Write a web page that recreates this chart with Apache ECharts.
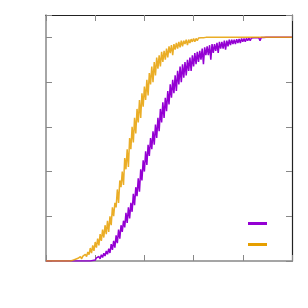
<!DOCTYPE html>
<html><head><meta charset="utf-8">
<script src="https://cdn.jsdelivr.net/npm/echarts@6/dist/echarts.min.js"></script>
<style>html,body{margin:0;padding:0;background:#fff}#c{width:308px;height:308px}</style>
</head><body><div id="c"></div>
<script>
const xTicks = [0, 20, 40, 60, 80, 100];
const yTicks = [0, 0.2, 0.4, 0.6, 0.8, 1.0];
const seriesNames = ['series 1', 'series 2'];
const step = 0.5;
// purple series: samples starting at x = 16, step 0.5
const purpleStart = 16;
const purpleVals = [
0,0,0,0.004,0,0.006,0.002,0.01,0.004,0.014,0.008,0.02,0.01,0.028,0.016,0.035,0.022,0.045,0.03,0.055,
0.036,0.075,0.05,0.09,0.06,0.115,0.08,0.14,0.1,0.16,0.13,0.18,0.15,0.215,0.17,0.24,0.19,0.26,0.22,0.3,
0.25,0.33,0.29,0.37,0.31,0.41,0.36,0.45,0.4,0.49,0.43,0.52,0.47,0.55,0.5,0.58,0.52,0.61,0.55,0.64,
0.58,0.68,0.62,0.71,0.64,0.73,0.67,0.76,0.7,0.79,0.73,0.81,0.75,0.83,0.76,0.85,0.79,0.87,0.8,0.88,
0.82,0.89,0.83,0.9,0.85,0.91,0.85,0.92,0.87,0.93,0.88,0.935,0.89,0.94,0.9,0.95,0.88,0.955,0.92,0.96,
0.92,0.965,0.9,0.97,0.93,0.97,0.94,0.975,0.93,0.98,0.95,0.98,0.95,0.985,0.945,0.985,0.96,0.99,0.965,0.99,
0.97,0.99,0.97,0.992,0.975,0.993,0.975,0.995,0.98,0.995,0.98,0.996,0.985,0.997,0.985,0.997,0.99,0.998,0.99,0.998,
0.99,0.998,0.985,0.999,0.993,0.999,0.995,1,0.995,1,0.996,1,0.997,1,0.998,1,0.998,1,0.999,1,
1,1,1,1,1,1,1,1,1
];
// orange series: samples starting at x = 10, step 0.5
const orangeStart = 10;
const orangeVals = [
0,0,0.004,0,0.008,0.002,0.012,0.006,0.02,0.01,0.022,0.014,0.03,0.02,0.04,0.028,0.058,0.035,0.07,0.045,
0.085,0.06,0.1,0.07,0.12,0.09,0.14,0.105,0.16,0.12,0.18,0.13,0.2,0.16,0.24,0.2,0.26,0.24,0.32,0.26,
0.36,0.33,0.4,0.34,0.46,0.41,0.5,0.42,0.55,0.5,0.6,0.53,0.64,0.57,0.68,0.62,0.72,0.64,0.75,0.69,
0.78,0.72,0.81,0.74,0.84,0.79,0.87,0.8,0.89,0.83,0.91,0.86,0.92,0.87,0.935,0.89,0.94,0.9,0.95,0.91,
0.96,0.93,0.965,0.92,0.97,0.945,0.975,0.95,0.98,0.955,0.985,0.96,0.985,0.97,0.99,0.965,0.99,0.975,0.992,0.98,
0.995,0.98,0.995,0.985,0.997,0.99,0.998,0.99,0.998,0.993,1,0.995,1,0.996,1,0.998,1,0.998,1,1,
1,1,1
];
const tailX = [80, 90, 100];
const tailOrange = [1, 1, 1];

function build(start, vals) {
  const d = [[0, 0], [start, 0]];
  vals.forEach((v, i) => d.push([start + i * step, v]));
  return d;
}
const purpleData = build(purpleStart, purpleVals);
const orangeData = build(orangeStart, orangeVals);
tailX.forEach((x, i) => orangeData.push([x, tailOrange[i]]));

const tickStyle = {show: true, inside: true, length: 6, lineStyle: {color: '#888', width: 1}};
function axis(type, pos, color, width, extra) {
  return Object.assign({
    type: 'value', position: pos,
    axisLine: {show: true, onZero: false, lineStyle: {color: color, width: width}},
    axisTick: tickStyle, axisLabel: {show: false}, splitLine: {show: false}
  }, extra);
}
const chart = echarts.init(document.getElementById('c'), null, {renderer: 'canvas'});
chart.setOption({
  animation: false,
  backgroundColor: '#fff',
  grid: {left: 46, top: 15, right: 16, bottom: 47, containLabel: false},
  legend: {
    orient: 'vertical', left: 243, top: 217, itemWidth: 19, itemHeight: 3, itemGap: 18,
    icon: 'rect', formatter: () => '', textStyle: {fontSize: 1},
    data: seriesNames
  },
  xAxis: [
    axis('x', 'bottom', '#888', 1.5, {min: xTicks[0], max: xTicks[xTicks.length - 1], interval: 20}),
    axis('x', 'top', '#222', 1.2, {min: xTicks[0], max: xTicks[xTicks.length - 1], interval: 20})
  ],
  yAxis: [
    axis('y', 'left', '#888', 1.5, {min: yTicks[0], max: 1.1, interval: 0.2}),
    axis('y', 'right', '#222', 1.2, {min: yTicks[0], max: 1.1, interval: 0.2})
  ],
  series: [
    {name: seriesNames[0], type: 'line', data: purpleData, showSymbol: false, symbol: 'none',
     color: '#9400D3', lineStyle: {width: 1.5, color: '#9400D3'}},
    {name: seriesNames[1], type: 'line', data: orangeData, showSymbol: false, symbol: 'none',
     color: '#E69F00', lineStyle: {width: 1.5, color: '#E69F00', opacity: 0.85}}
  ]
});
</script></body></html>
